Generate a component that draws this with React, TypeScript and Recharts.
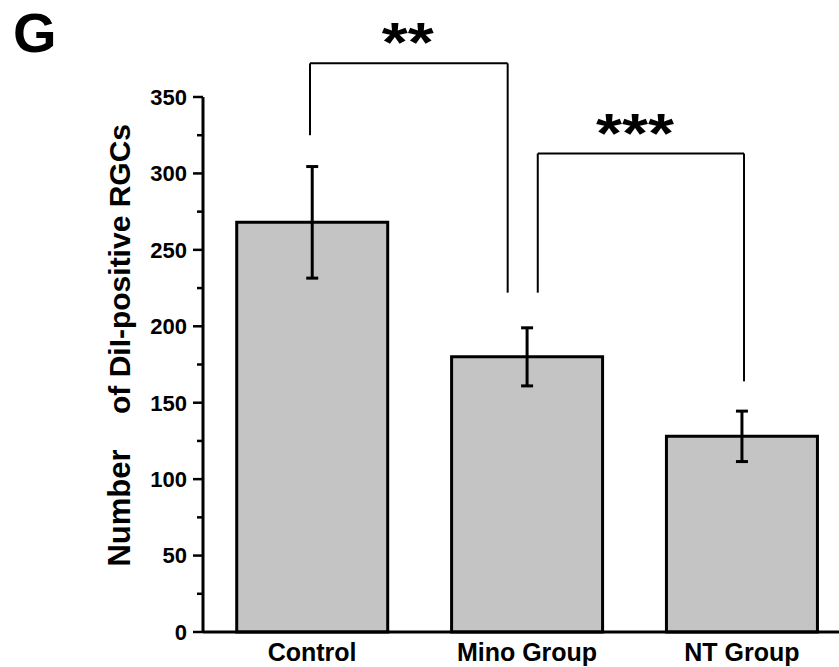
import { BarChart, Bar, XAxis, YAxis, ErrorBar, ReferenceLine } from "recharts";

const groups = ["Control", "Mino Group", "NT Group"];
const positions = [0, 1, 2];
const means = [268, 180, 128];
const errors = [36.5, 19, 16.5];

const yTicks = [0, 25, 50, 75, 100, 125, 150, 175, 200, 225, 250, 275, 300, 325, 350];

// significance brackets, x in group units, y in data units
const brackets = [
  { label: "**", x1: -0.01, x2: 0.91, top: 372, left: 325, right: 222 },
  { label: "***", x1: 1.05, x2: 2.01, top: 313, left: 222, right: 164 },
];

const data = groups.map((name, i) => ({ name, pos: positions[i], value: means[i], err: errors[i] }));

const FONT = "'Liberation Sans', Arial, sans-serif";

const YTick = (props: any) => {
  const { x, y, payload } = props;
  const major = payload.value % 50 === 0;
  return (
    <g>
      <line x1={x - (major ? 10 : 6)} x2={x} y1={y} y2={y} stroke="#000" strokeWidth={2.5} />
      {major && (
        <text x={x - 16} y={y} dy="0.36em" textAnchor="end" fontFamily={FONT} fontWeight="bold" fontSize={22} fill="#000">
          {payload.value}
        </text>
      )}
    </g>
  );
};

const XTick = (props: any) => {
  const { x, y, payload } = props;
  return (
    <text x={x} y={y + 27} textAnchor="middle" fontFamily={FONT} fontWeight="bold" fontSize={25} fill="#000">
      {groups[payload.value]}
    </text>
  );
};

const YLabel = () => (
  <g fontFamily={FONT} fontWeight="bold" fill="#000">
    <text x={13} y={52} fontSize={56}>G</text>
    <text x={130} y={508} fontSize={31} transform="rotate(-90, 130, 508)" textAnchor="middle">Number</text>
    <text x={130} y={269} fontSize={30} transform="rotate(-90, 130, 269)" textAnchor="middle">of DiI-positive RGCs</text>
  </g>
);

const Stars = (text: string, len: number, dx: number) => (props: any) => {
  const vb = props.viewBox;
  return (
    <text
      x={vb.x + vb.width / 2 + dx}
      y={vb.y - 2}
      textAnchor="middle"
      textLength={len}
      lengthAdjust="spacingAndGlyphs"
      fontFamily={FONT}
      fontWeight="bold"
      fontSize={56}
      fill="#000"
    >
      {text}
    </text>
  );
};

export default function App() {
  return (
    <div style={{ position: "absolute", left: 0, top: 0, width: 839, height: 667, background: "#fff", overflow: "hidden" }}>
      <BarChart width={839} height={667} data={data} margin={{ top: 97, right: 0, bottom: 0, left: 0 }}>
        <XAxis
          dataKey="pos"
          type="number"
          domain={[-0.508, 2.452]}
          ticks={positions}
          allowDataOverflow
          height={35}
          tickLine={false}
          tickSize={0}
          axisLine={{ stroke: "#000", strokeWidth: 3 }}
          tick={<XTick />}
        />
        <YAxis
          type="number"
          domain={[0, 350]}
          ticks={yTicks}
          interval={0}
          width={203}
          tickLine={false}
          tickSize={0}
          tickMargin={0}
          axisLine={{ stroke: "#000", strokeWidth: 3 }}
          tick={<YTick />}
          label={{ content: () => <YLabel /> }}
        />
        <Bar dataKey="value" barSize={151} fill="#c4c4c4" stroke="#000" strokeWidth={3} isAnimationActive={false}>
          <ErrorBar dataKey="err" width={6} stroke="#000" strokeWidth={3} isAnimationActive={false} />
        </Bar>
        {brackets.map((b, i) => (
          <ReferenceLine
            key={"t" + i}
            segment={[{ x: b.x1, y: b.top }, { x: b.x2, y: b.top }]}
            stroke="#000"
            strokeWidth={2}
            ifOverflow="visible"
            label={Stars(b.label, i === 0 ? 52 : 78, i === 0 ? -1 : -6)}
          />
        ))}
        {brackets.map((b, i) => (
          <ReferenceLine
            key={"l" + i}
            segment={[{ x: b.x1, y: b.top }, { x: b.x1, y: b.left }]}
            stroke="#000"
            strokeWidth={2}
            ifOverflow="visible"
          />
        ))}
        {brackets.map((b, i) => (
          <ReferenceLine
            key={"r" + i}
            segment={[{ x: b.x2, y: b.top }, { x: b.x2, y: b.right }]}
            stroke="#000"
            strokeWidth={2}
            ifOverflow="visible"
          />
        ))}
      </BarChart>
    </div>
  );
}
